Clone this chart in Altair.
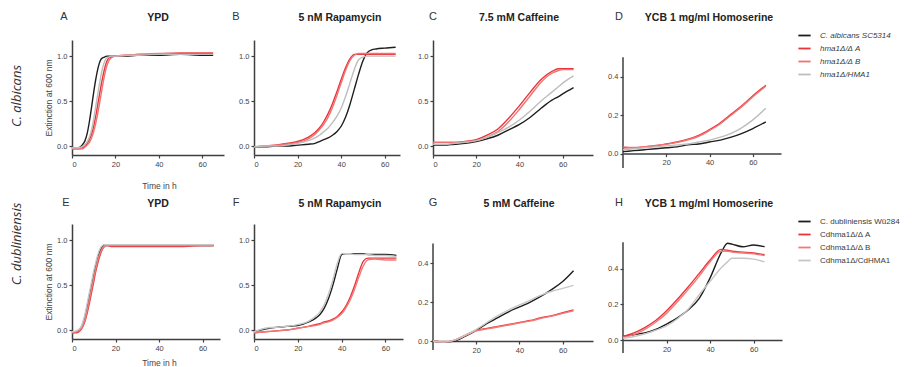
import altair as alt
import pandas as pd

# ---------------- legend / strains ----------------
STRAINS_TOP = ["C. albicans SC5314", "hma1Δ/Δ A", "hma1Δ/Δ B", "hma1Δ/HMA1"]
STRAINS_BOT = ["C. dubliniensis Wü284", "Cdhma1Δ/Δ A", "Cdhma1Δ/Δ B", "Cdhma1Δ/CdHMA1"]
COLORS_TOP = ["#1e1e1e", "#e8353b", "#f07272", "#bdbdbd"]
COLORS_BOT = ["#1e1e1e", "#e8353b", "#f07a7a", "#c6c6c6"]

# ---------------- A: YPD (C. albicans) ----------------
A_T = [0, 3, 5, 6, 7, 8, 9, 10, 11, 12, 13, 14, 15, 16, 17, 18, 20, 25, 30, 40, 50, 60, 65]
A_WT = [-0.02, -0.02, 0.02, 0.06, 0.14, 0.27, 0.43, 0.6, 0.75, 0.87, 0.95, 0.98, 0.99, 1.0, 1.0, 1.0, 1.0, 1.0, 1.01, 1.01, 1.02, 1.01, 1.01]
A_DA = [-0.03, -0.03, -0.02, 0.0, 0.03, 0.07, 0.13, 0.22, 0.34, 0.48, 0.62, 0.75, 0.86, 0.94, 0.98, 0.99, 1.0, 1.01, 1.02, 1.02, 1.03, 1.03, 1.03]
A_DB = [-0.03, -0.03, -0.03, -0.01, 0.01, 0.04, 0.09, 0.16, 0.26, 0.38, 0.52, 0.66, 0.79, 0.89, 0.95, 0.98, 1.0, 1.01, 1.02, 1.03, 1.04, 1.04, 1.04]
A_RE = [-0.02, -0.02, 0.0, 0.02, 0.05, 0.1, 0.18, 0.3, 0.45, 0.6, 0.74, 0.86, 0.94, 0.98, 0.99, 1.0, 1.0, 1.01, 1.01, 1.02, 1.02, 1.02, 1.02]

# ---------------- B: 5 nM Rapamycin (C. albicans) ----------------
B_T = [0, 5, 10, 15, 20, 25, 28, 30, 32, 34, 36, 38, 40, 42, 44, 46, 48, 50, 52, 54, 56, 60, 65]
B_WT = [-0.01, -0.01, 0.0, 0.0, 0.01, 0.02, 0.03, 0.05, 0.07, 0.09, 0.12, 0.16, 0.22, 0.32, 0.46, 0.63, 0.8, 0.95, 1.04, 1.07, 1.08, 1.09, 1.1]
B_DA = [-0.01, 0.0, 0.01, 0.03, 0.05, 0.1, 0.15, 0.2, 0.27, 0.36, 0.47, 0.6, 0.74, 0.87, 0.97, 1.02, 1.02, 1.02, 1.02, 1.02, 1.02, 1.02, 1.02]
B_DB = [-0.01, 0.0, 0.01, 0.02, 0.04, 0.08, 0.13, 0.18, 0.24, 0.32, 0.43, 0.56, 0.7, 0.84, 0.95, 1.01, 1.03, 1.03, 1.03, 1.03, 1.03, 1.03, 1.03]
B_RE = [-0.01, 0.0, 0.0, 0.01, 0.03, 0.06, 0.09, 0.12, 0.16, 0.2, 0.26, 0.33, 0.42, 0.55, 0.7, 0.85, 0.96, 0.99, 1.0, 1.0, 1.0, 1.0, 1.0]

# ---------------- C: 7.5 mM Caffeine (C. albicans) ----------------
C_T = [0, 5, 10, 15, 20, 25, 30, 35, 40, 45, 50, 55, 58, 60, 65]
C_WT = [0.01, 0.01, 0.02, 0.03, 0.05, 0.08, 0.12, 0.18, 0.24, 0.32, 0.42, 0.51, 0.55, 0.58, 0.65]
C_DA = [0.04, 0.04, 0.04, 0.05, 0.07, 0.12, 0.19, 0.31, 0.45, 0.6, 0.74, 0.83, 0.86, 0.86, 0.86]
C_DB = [0.04, 0.04, 0.04, 0.05, 0.06, 0.1, 0.16, 0.27, 0.41, 0.56, 0.71, 0.81, 0.84, 0.85, 0.85]
C_RE = [0.02, 0.02, 0.03, 0.04, 0.06, 0.1, 0.15, 0.21, 0.29, 0.39, 0.5, 0.6, 0.66, 0.7, 0.78]

# ---------------- D: YCB 1 mg/ml Homoserine (C. albicans) ----------------
D_T = [0, 5, 10, 15, 20, 25, 30, 35, 40, 45, 50, 55, 60, 66]
D_WT = [0.01, 0.015, 0.02, 0.025, 0.03, 0.035, 0.045, 0.05, 0.06, 0.07, 0.085, 0.105, 0.13, 0.165]
D_DA = [0.03, 0.03, 0.035, 0.04, 0.05, 0.06, 0.075, 0.095, 0.125, 0.16, 0.205, 0.25, 0.3, 0.355]
D_DB = [0.035, 0.032, 0.035, 0.042, 0.048, 0.058, 0.072, 0.09, 0.12, 0.155, 0.2, 0.245, 0.295, 0.35]
D_RE = [0.02, 0.025, 0.03, 0.035, 0.04, 0.045, 0.05, 0.06, 0.07, 0.085, 0.105, 0.135, 0.175, 0.235]

# ---------------- E: YPD (C. dubliniensis) ----------------
E_T = [0, 2, 4, 5, 6, 7, 8, 9, 10, 11, 12, 13, 14, 15, 16, 18, 20, 30, 40, 50, 60, 65]
E_WT = [-0.03, -0.02, 0.02, 0.07, 0.15, 0.26, 0.38, 0.5, 0.62, 0.73, 0.82, 0.89, 0.93, 0.95, 0.95, 0.95, 0.95, 0.94, 0.94, 0.94, 0.94, 0.94]
E_DA = [-0.03, -0.03, 0.0, 0.04, 0.1, 0.19, 0.3, 0.42, 0.54, 0.66, 0.76, 0.84, 0.9, 0.93, 0.94, 0.93, 0.93, 0.93, 0.93, 0.93, 0.94, 0.94]
E_DB = [-0.03, -0.02, 0.01, 0.05, 0.12, 0.22, 0.34, 0.46, 0.58, 0.69, 0.79, 0.86, 0.91, 0.93, 0.94, 0.94, 0.94, 0.94, 0.94, 0.94, 0.94, 0.94]
E_RE = [-0.02, -0.01, 0.03, 0.09, 0.18, 0.3, 0.42, 0.54, 0.66, 0.76, 0.85, 0.91, 0.94, 0.95, 0.95, 0.95, 0.95, 0.95, 0.95, 0.95, 0.95, 0.95]

# ---------------- F: 5 nM Rapamycin (C. dubliniensis) ----------------
F_T = [0, 5, 10, 15, 20, 25, 28, 30, 32, 34, 36, 38, 40, 42, 44, 46, 48, 50, 52, 55, 60, 65]
F_WT = [-0.02, 0.01, 0.03, 0.04, 0.05, 0.09, 0.13, 0.17, 0.24, 0.35, 0.5, 0.68, 0.84, 0.85, 0.85, 0.85, 0.85, 0.85, 0.84, 0.84, 0.84, 0.83]
F_DA = [-0.03, -0.02, -0.01, 0.0, 0.02, 0.04, 0.06, 0.07, 0.09, 0.1, 0.12, 0.15, 0.2, 0.27, 0.37, 0.5, 0.65, 0.77, 0.8, 0.8, 0.8, 0.8]
F_DB = [-0.03, -0.02, -0.01, 0.0, 0.02, 0.04, 0.05, 0.06, 0.08, 0.09, 0.11, 0.14, 0.18, 0.25, 0.34, 0.46, 0.6, 0.72, 0.78, 0.79, 0.78, 0.78]
F_RE = [-0.02, 0.02, 0.03, 0.04, 0.06, 0.1, 0.15, 0.2, 0.28, 0.4, 0.56, 0.74, 0.85, 0.85, 0.85, 0.84, 0.84, 0.84, 0.84, 0.83, 0.83, 0.82]

# ---------------- G: 5 mM Caffeine (C. dubliniensis) ----------------
G_T = [0, 5, 10, 15, 20, 25, 30, 35, 40, 45, 50, 55, 60, 65]
G_WT = [0.0, -0.005, 0.0, 0.025, 0.055, 0.09, 0.12, 0.15, 0.175, 0.2, 0.23, 0.265, 0.305, 0.36]
G_DA = [0.0, -0.005, 0.005, 0.03, 0.055, 0.065, 0.075, 0.085, 0.095, 0.105, 0.12, 0.13, 0.145, 0.16]
G_DB = [0.0, -0.005, 0.005, 0.028, 0.052, 0.062, 0.072, 0.082, 0.093, 0.103, 0.116, 0.128, 0.142, 0.155]
G_RE = [0.0, -0.005, 0.005, 0.03, 0.06, 0.095, 0.13, 0.16, 0.185, 0.21, 0.235, 0.255, 0.27, 0.285]

# ---------------- H: YCB 1 mg/ml Homoserine (C. dubliniensis) ----------------
H_T = [0, 5, 10, 15, 20, 25, 30, 35, 40, 45, 48, 50, 55, 60, 65]
H_WT = [0.02, 0.03, 0.04, 0.06, 0.09, 0.125, 0.17, 0.235, 0.35, 0.49, 0.545, 0.54, 0.525, 0.535, 0.525]
H_DA = [0.02, 0.04, 0.07, 0.11, 0.165, 0.23, 0.3, 0.375, 0.45, 0.51, 0.505, 0.5, 0.495, 0.49, 0.48]
H_DB = [0.015, 0.03, 0.06, 0.1, 0.15, 0.215, 0.285, 0.36, 0.44, 0.5, 0.5, 0.495, 0.49, 0.485, 0.475]
H_RE = [0.01, 0.02, 0.035, 0.055, 0.08, 0.12, 0.175, 0.255, 0.33, 0.405, 0.44, 0.46, 0.46, 0.455, 0.44]

TITLES = ["YPD", "5 nM Rapamycin", "7.5 mM Caffeine", "YCB 1 mg/ml Homoserine",
          "YPD", "5 nM Rapamycin", "5 mM Caffeine", "YCB 1 mg/ml Homoserine"]
LETTERS = ["A", "B", "C", "D", "E", "F", "G", "H"]
ROW_LABELS = ["C. albicans", "C. dubliniensis"]
Y_TITLE = "Extinction at 600 nm"
X_TITLE = "Time in h"

AXIS_COLOR = "#3f3f3f"
FONT = "Liberation Sans"


def make_df(times, series, names):
    rows = []
    for name, vals in zip(names, series):
        for t, v in zip(times, vals):
            rows.append({"t": t, "od": v, "strain": name})
    return pd.DataFrame(rows)


def text_layer(txt, x, y, **kw):
    return alt.Chart(pd.DataFrame({"s": [txt]})).mark_text(**kw).encode(
        text="s:N", x=alt.value(x), y=alt.value(y))


def panel(idx, times, series, names, colors, xmax, ydom, w, h, low=False,
          first=False, legend=None, row_label=None, row_label_y=60,
          letter_dx=-8, top_dy=-23, xtitle_y=30, axis_top=0.5, italic_legend=False):
    df = make_df(times, series, names)
    if low:
        xaxis = alt.Axis(values=[20, 40, 60], title=None, offset=-(-ydom[0]) / (ydom[1] - ydom[0]) * h)
        yaxis = alt.Axis(values=[0, 0.2, 0.4], format=".1f", title=None, domain=False)
    else:
        xaxis = alt.Axis(values=[0, 20, 40, 60], title=X_TITLE if first else None,
                         titleX=87, titleY=xtitle_y, titleBaseline="middle")
        yaxis = alt.Axis(values=[0, 0.5, 1.0], format=".1f",
                         title=Y_TITLE if first else None, titlePadding=3)
    if legend is not None:
        leg = alt.Legend(orient="none", legendX=legend[0], legendY=legend[1], title=None,
                         symbolType="stroke", symbolSize=150, symbolStrokeWidth=1.8,
                         labelFontSize=8, labelColor="#3a3a3a", labelOffset=8,
                         rowPadding=1, padding=0, labelLimit=200,
                         labelFontStyle="italic" if italic_legend else "normal")
    else:
        leg = None
    lines = alt.Chart(df).mark_line(strokeWidth=1.4, interpolate="monotone").encode(
        x=alt.X("t:Q", scale=alt.Scale(domain=[0, xmax], nice=False, zero=False), axis=xaxis),
        y=alt.Y("od:Q", scale=alt.Scale(domain=list(ydom), nice=False, zero=False), axis=yaxis),
        color=alt.Color("strain:N", scale=alt.Scale(domain=names, range=colors), legend=leg),
    )
    layers = [lines]
    if low:
        rule_df = pd.DataFrame({"y0": [ydom[0]], "y1": [axis_top]})
        layers.insert(0, alt.Chart(rule_df).mark_rule(color=AXIS_COLOR, strokeWidth=1.5).encode(
            x=alt.value(0), y="y0:Q", y2="y1:Q"))
    layers.append(text_layer(LETTERS[idx], letter_dx, top_dy, fontSize=11, align="center",
                             baseline="middle", color="#333", font=FONT))
    layers.append(text_layer(TITLES[idx], 86, top_dy + 1, fontSize=10.5, fontWeight="bold",
                             align="center", baseline="middle", color="#222", font=FONT))
    if row_label is not None:
        layers.append(text_layer(row_label, -55, row_label_y, fontSize=13, angle=270,
                                 fontStyle="italic", font="Open Sans", align="center",
                                 baseline="middle", color="#333"))
    return alt.layer(*layers).properties(width=w, height=h)


TOP = STRAINS_TOP
BOT = STRAINS_BOT
pA = panel(0, A_T, [A_WT, A_DA, A_DB, A_RE], TOP, COLORS_TOP, 70, (-0.1, 1.18), 152, 115,
           first=True, row_label=ROW_LABELS[0], row_label_y=56, letter_dx=-8, xtitle_y=30)
pB = panel(1, B_T, [B_WT, B_DA, B_DB, B_RE], TOP, COLORS_TOP, 67, (-0.1, 1.18), 146, 115, letter_dx=-18)
pC = panel(2, C_T, [C_WT, C_DA, C_DB, C_RE], TOP, COLORS_TOP, 74, (-0.1, 1.18), 160, 115, letter_dx=0)
pD = panel(3, D_T, [D_WT, D_DA, D_DB, D_RE], TOP, COLORS_TOP, 73, (-0.075, 0.59), 158, 128, low=True,
           legend=(174, -12), letter_dx=-4, italic_legend=True)
pE = panel(4, E_T, [E_WT, E_DA, E_DB, E_RE], BOT, COLORS_BOT, 68, (-0.1, 1.18), 148, 115,
           first=True, row_label=ROW_LABELS[1], row_label_y=20, letter_dx=-6, top_dy=-21, xtitle_y=23)
pF = panel(5, F_T, [F_WT, F_DA, F_DB, F_RE], BOT, COLORS_BOT, 68, (-0.1, 1.18), 149, 115,
           letter_dx=-18, top_dy=-21)
pG = panel(6, G_T, [G_WT, G_DA, G_DB, G_RE], BOT, COLORS_BOT, 74, (-0.046, 0.6), 160, 126, low=True,
           letter_dx=0, top_dy=-21)
pH = panel(7, H_T, [H_WT, H_DA, H_DB, H_RE], BOT, COLORS_BOT, 73, (-0.073, 0.653), 159, 129, low=True,
           legend=(174, -10), letter_dx=-4, top_dy=-21, axis_top=0.55)

chart = alt.concat(pA, pB, pC, pD, pE, pF, pG, pH, columns=4,
                   spacing=alt.RowColnumber(row=56, column=30),
                   bounds="flush", align="each").resolve_scale(
    x="independent", y="independent", color="independent"
).resolve_legend(color="independent").properties(
    padding={"left": 3, "top": 3, "right": 0, "bottom": 0}
).configure(font=FONT).configure_view(stroke=None).configure_axis(
    grid=False, labelFontSize=7.5, labelColor="#444", labelFont=FONT,
    domainColor=AXIS_COLOR, domainWidth=1.5, tickColor=AXIS_COLOR, tickWidth=1.2,
    tickSize=3, labelPadding=2, titleFontSize=8.5, titleFontWeight="normal",
    titleColor="#444", titleFont=FONT
)

chart.save("out.html", embed_options={"renderer": "svg", "actions": False})
